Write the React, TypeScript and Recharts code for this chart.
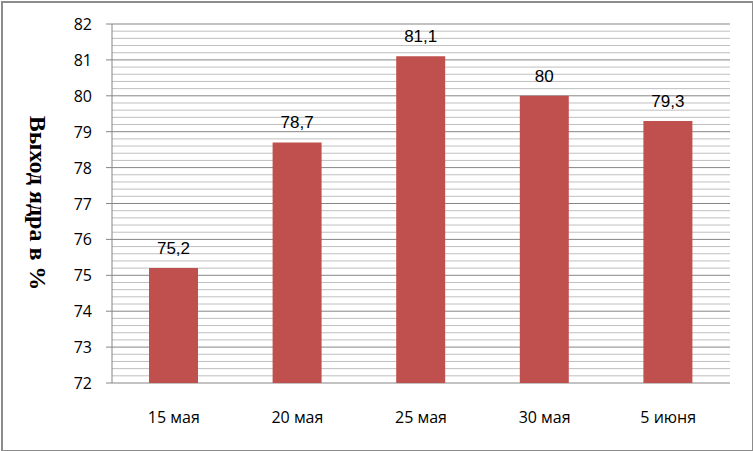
import { BarChart, Bar, XAxis, YAxis, CartesianGrid, LabelList } from 'recharts'

const dates = ['15 мая', '20 мая', '25 мая', '30 мая', '5 июня']
const kernelYield = [75.2, 78.7, 81.1, 80, 79.3]
const yTicks = [72, 73, 74, 75, 76, 77, 78, 79, 80, 81, 82]
const edgeTicks = [0, 1, 2, 3, 4, 5]

// minor gridlines every 0.2 between the major ticks
const minorTicks: number[] = []
for (let i = 0; i <= 50; i++) minorTicks.push(Math.round((72 + i * 0.2) * 10) / 10)

const data = dates.map((d, i) => ({ date: d, value: kernelYield[i] }))

const fmt = (v: any) => String(v).replace('.', ',')

const YTick = (props: any) => {
  const { y, payload } = props
  const v = payload.value
  if (!yTicks.includes(v)) return null
  return (
    <g>
      <line x1={106} x2={112} y1={y} y2={y} stroke="#868686" />
      <text x={92} y={y} textAnchor="end" dominantBaseline="central" fontSize={16} fill="#000"
        fontFamily="'Open Sans', sans-serif">{v}</text>
    </g>
  )
}

const GridLine = (props: any) => {
  const { x1, x2, y1, y2, index } = props
  const major = index % 5 === 0
  return <line x1={x1} x2={x2} y1={y1} y2={y2} stroke={major ? '#868686' : '#bfbfbf'} strokeWidth={1} />
}

const YLabel = () => (
  <text transform="translate(38,203) rotate(90)" textAnchor="middle" dominantBaseline="central"
    fontFamily="'Liberation Serif', 'Times New Roman', serif" fontWeight="bold" fontSize={24} fill="#000">
    Выход ядра в %
  </text>
)

export default function App() {
  return (
    <div style={{ position: 'absolute', left: 0, top: 0, width: 753, height: 451, background: '#fff' }}>
      <div style={{ position: 'absolute', left: 1, top: 1, width: 749, height: 447, border: '2px solid #8c8c8c' }} />
      <BarChart width={753} height={451} data={data}
        margin={{ top: 24, right: 23, bottom: 38, left: 0 }}>
        <CartesianGrid vertical={false} horizontal={GridLine as any} />
        <XAxis xAxisId="edge" type="number" domain={[0, 5]} ticks={edgeTicks} tick={false}
          height={0} axisLine={{ stroke: '#868686' }} tickLine={{ stroke: '#868686' }} tickSize={6}
          allowDataOverflow />
        <XAxis dataKey="date" height={30} axisLine={false} tickLine={false} tickSize={0} tickMargin={29}
          tick={{ fontSize: 16, fill: '#000', fontFamily: "'Open Sans', sans-serif" }} />
        <YAxis width={112} domain={[72, 82]} ticks={minorTicks} interval={0} tick={<YTick />}
          tickLine={false} axisLine={{ stroke: '#868686' }} allowDataOverflow
          label={{ content: <YLabel /> } as any} />
        <Bar dataKey="value" fill="#C0504D" barSize={49} isAnimationActive={false}>
          <LabelList dataKey="value" position="top" offset={14} formatter={fmt}
            style={{ fontSize: 17, fill: '#000', fontFamily: "'Liberation Sans', Arial, sans-serif" }} />
        </Bar>
      </BarChart>
    </div>
  )
}
